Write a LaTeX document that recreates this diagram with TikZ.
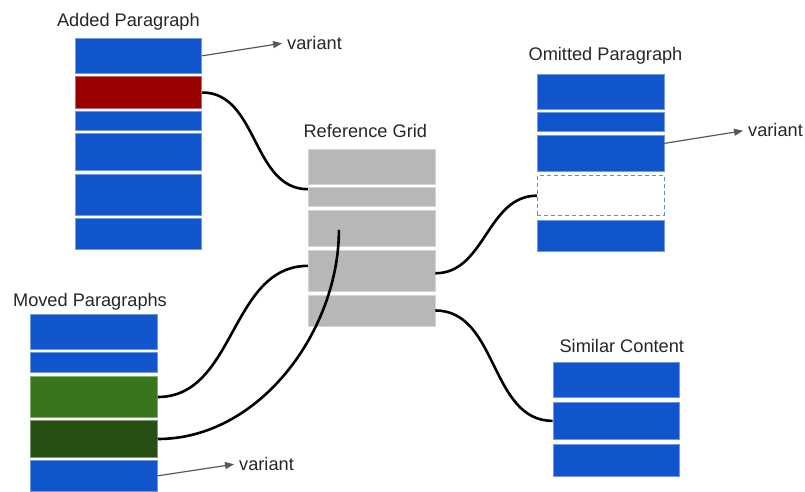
\documentclass[tikz,border=0pt]{standalone}
\usepackage{fontspec}
\setmainfont{Liberation Sans}
\usetikzlibrary{arrows.meta,calc}
\definecolor{gblue}{HTML}{1155CC}
\definecolor{gred}{HTML}{990000}
\definecolor{ggreen}{HTML}{38761D}
\definecolor{gdkgreen}{HTML}{274E13}
\definecolor{ggray}{HTML}{B7B7B7}
\definecolor{garrow}{HTML}{595959}
\definecolor{gdash}{HTML}{5B8FC7}
\tikzset{
  para/.style={rectangle, inner sep=0pt, minimum width=126.7pt, line width=0.8pt},
  bluebox/.style={para, fill=gblue, draw=gblue!60!white},
  redbox/.style={para, fill=gred, draw=gred!60!white},
  greenbox/.style={para, fill=ggreen, draw=ggreen!60!white},
  dkgreenbox/.style={para, fill=gdkgreen, draw=gdkgreen!60!white},
  graybox/.style={para, fill=ggray, draw=ggray!60!white},
  omitbox/.style={para, fill=white, draw=gdash, dash pattern=on 4pt off 3pt, line width=1pt},
  title/.style={anchor=base, inner sep=0pt, font=\fontsize{18.2}{21}\selectfont, text=black!85},
  vartext/.style={anchor=base west, inner sep=0pt, font=\fontsize{18.2}{21}\selectfont, text=black!85},
  link/.style={line width=2.6pt, black, out=0, in=180},
  varrow/.style={draw=garrow, line width=1.2pt, -{Triangle[length=9pt,width=7pt]}, shorten >=5pt},
}
\begin{document}
\begin{tikzpicture}[x=1pt,y=-1pt]
\useasboundingbox (0,0) rectangle (805,491);

% Added Paragraph
\node[title] (tadd) at (128.4,26) {Added Paragraph};
\node[bluebox, minimum height=35pt]   (a1) at (138.5,55.8) {};
\node[redbox, minimum height=31.6pt]  (a2) at (138.5,92.5) {};
\node[bluebox, minimum height=19.7pt] (a3) at (138.5,120.85) {};
\node[bluebox, minimum height=36.7pt] (a4) at (138.5,151.65) {};
\node[bluebox, minimum height=41pt]   (a5) at (138.5,194.5) {};
\node[bluebox, minimum height=31pt]   (a6) at (138.5,233.8) {};
\node[vartext] (v1) at (287,49) {variant};

% Reference Grid
\node[title] (tref) at (365.3,137.3) {Reference Grid};
\node[graybox, minimum height=34.7pt] (r1) at (371.65,166.65) {};
\node[graybox, minimum height=19pt]   (r2) at (371.65,197.2) {};
\node[graybox, minimum height=36.7pt] (r3) at (371.65,228.35) {};
\node[graybox, minimum height=40.3pt] (r4) at (371.65,270.85) {};
\node[graybox, minimum height=31pt]   (r5) at (371.65,310.5) {};

% Omitted Paragraph
\node[title] (tomit) at (605.5,60.7) {Omitted Paragraph};
\node[bluebox, minimum height=35pt]   (o1) at (600.65,91.5) {};
\node[bluebox, minimum height=19.4pt] (o2) at (600.65,122) {};
\node[bluebox, minimum height=36.7pt] (o3) at (600.65,153.35) {};
\node[omitbox, minimum height=40pt]   (o4) at (600.65,195.7) {};
\node[bluebox, minimum height=31pt]   (o5) at (600.65,235.5) {};
\node[vartext] (v2) at (748,136.5) {variant};

% Moved Paragraphs
\node[title] (tmove) at (90,306) {Moved Paragraphs};
\node[bluebox, minimum height=35pt]     (m1) at (94,331.8) {};
\node[bluebox, minimum height=19.3pt]   (m2) at (94,362.35) {};
\node[greenbox, minimum height=40.6pt]  (m3) at (94,397) {};
\node[dkgreenbox, minimum height=36.6pt](m4) at (94,439) {};
\node[bluebox, minimum height=31pt]     (m5) at (94,475.8) {};
\node[vartext] (v3) at (239,470) {variant};

% Similar Content
\node[title] (tsim) at (621.8,352.7) {Similar Content};
\node[bluebox, minimum height=35pt]   (s1) at (616.3,380.2) {};
\node[bluebox, minimum height=36.3pt] (s2) at (616.3,420.85) {};
\node[bluebox, minimum height=31.7pt] (s3) at (616.3,460.15) {};

% connector end points
\coordinate (r2in) at ($(r2.west)+(0,-8)$);
\coordinate (r4in) at ($(r4.west)+(0,-5)$);
\coordinate (r3in) at ($(r3.west)+(31,1.6)$);
\coordinate (r4out) at ($(r4.east)+(0,2.4)$);
\coordinate (o3out) at ($(o3.east)+(0,-10)$);

% connectors
\draw[link] (a2.east) to (r2in);
\draw[link] (m3.east) to (r4in);
\draw[line width=2.6pt, black] (m4.east) .. controls (260,439) and (339,330) .. (r3in);
\draw[link] (r4out) to (o4.west);
\draw[link] (r5.east) to (s2.west);

% variant arrows
\draw[varrow] (a1.east) -- (v1.west);
\draw[varrow] (o3out) -- (v2.west);
\draw[varrow] (m5.east) -- (v3.west);
\end{tikzpicture}
\end{document}
